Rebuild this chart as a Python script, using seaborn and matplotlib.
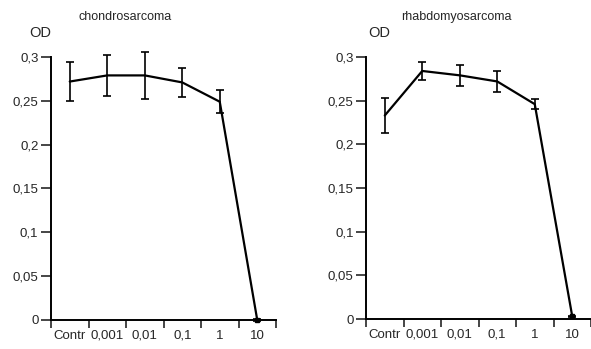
import numpy as np
import pandas as pd
import matplotlib
matplotlib.use("Agg")
import matplotlib.pyplot as plt
import seaborn as sns

# data
doses = ["Contr", "0,001", "0,01", "0,1", "1", "10"]
chondro_od = [0.272, 0.279, 0.279, 0.271, 0.249, 0.0]
chondro_err = [0.022, 0.023, 0.027, 0.017, 0.013, 0.001]
rhabdo_od = [0.233, 0.284, 0.279, 0.272, 0.246, 0.003]
rhabdo_err = [0.020, 0.010, 0.012, 0.012, 0.006, 0.001]
yticks = [0, 0.05, 0.1, 0.15, 0.2, 0.25, 0.3]
ytick_labels = ["0", "0,05", "0,1", "0,15", "0,2", "0,25", "0,3"]

sns.set_style("ticks")
plt.rcParams['font.family'] = ['Liberation Sans', 'DejaVu Sans']

fig = plt.figure(figsize=(5.91, 3.49), dpi=100)
ax1 = fig.add_axes([51 / 591, 29 / 349, 225 / 591, 263 / 349])
ax2 = fig.add_axes([366 / 591, 30 / 349, 225 / 591, 262 / 349])

# axes, values, errors, title, title x, OD x (axes fraction)
panels = [
    (ax1, chondro_od, chondro_err, "chondrosarcoma", 0.33, -0.05),
    (ax2, rhabdo_od, rhabdo_err, "rhabdomyosarcoma", 0.40, 0.06),
]

for ax, od, err, name, tx, odx in panels:
    DAT = pd.DataFrame({'pos': np.arange(len(doses)), 'OD': od, 'err': err})
    sns.lineplot(data=DAT, x='pos', y='OD', ax=ax, color='k', lw=1.6)
    ax.errorbar(DAT['pos'], DAT['OD'], yerr=DAT['err'], fmt='none',
                ecolor='k', elinewidth=1.2, capsize=3, capthick=1.2, clip_on=False)
    ax.plot(DAT['pos'].iloc[-1], DAT['OD'].iloc[-1], marker='s', ms=3, color='k', clip_on=False)

    ax.set_xlim(-0.5, 5.5)
    ax.set_ylim(0, 0.3)
    ax.set_xticks(np.arange(-0.5, 6, 1), minor=True)
    ax.set_xticks(np.arange(len(doses)))
    ax.set_xticklabels(doses, fontsize=9.5)
    ax.tick_params(axis='x', which='major', length=0, pad=7)
    ax.tick_params(axis='x', which='minor', length=6, width=1.2, direction='out')
    ax.set_yticks(yticks)
    ax.set_yticklabels(ytick_labels, fontsize=9.5)
    ax.tick_params(axis='y', length=7, width=1.2, pad=2)
    ax.set_xlabel("")
    ax.set_ylabel("")
    sns.despine(ax=ax)
    for s in ['left', 'bottom']:
        ax.spines[s].set_linewidth(1.4)
        ax.spines[s].set_color('k')
    ax.text(odx, 1.09, "OD", transform=ax.transAxes, fontsize=10.5, ha='center', va='center')
    ax.text(tx, 1.152, name, transform=ax.transAxes, fontsize=9, ha='center', va='center')

fig.savefig("out.png", dpi=100)
